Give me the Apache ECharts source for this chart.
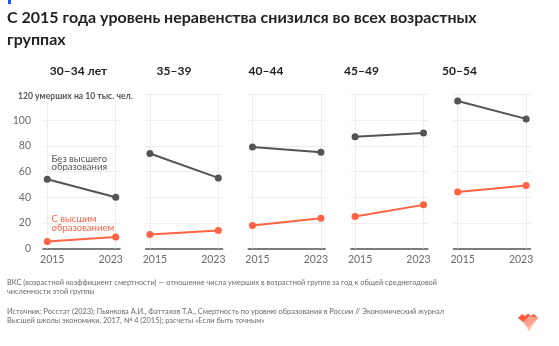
<!DOCTYPE html>
<html><head><meta charset="utf-8">
<script src="https://cdn.jsdelivr.net/npm/echarts@6/dist/echarts.min.js"></script>
<style>html,body{margin:0;padding:0;background:#fff}#c{width:559px;height:346px}</style>
</head><body><div id="c"></div>
<script>
const panels = ['30–34 лет', '35–39', '40–44', '45–49', '50–54'];
const years = [2015, 2023];
const noHigher = [[54, 40], [74, 55], [79, 75], [87, 90], [115, 101]];
const higher = [[5.5, 9], [11, 14], [18, 23.5], [25, 34], [44, 49]];
const yTicks = [0, 20, 40, 60, 80, 100, 120];
const yUnit = 'умерших на 10 тыс. чел.';

const FONT = 'Lato, "Noto Sans", sans-serif';
const GRAY = '#545457';
const RED = '#ff6343';
const LBL = '#6a6a70';
const chart = echarts.init(document.getElementById('c'), null, {renderer: 'canvas'});

const grids = [], xAxes = [], yAxes = [], series = [];
const titleCenters = [78.5, 174, 266, 361.5, 459.5];
panels.forEach((p, i) => {
  grids.push({left: 43 + i * 102.6, width: 77, top: 94.5, height: 154});
  xAxes.push({
    gridIndex: i, type: 'value', min: 2014.5, max: 2023.5,
    axisLine: {show: true, lineStyle: {color: '#55565a', width: 1.5}},
    axisTick: {show: false, customValues: years},
    splitLine: {show: false},
    axisLabel: {
      customValues: years, margin: 6, color: LBL, fontSize: 10.5, fontFamily: FONT,
      formatter: v => v === years[0] ? '{a|' + v + '}' : '{b|' + v + '}',
      rich: {
        a: {padding: [0, 0, 0, 10], color: LBL, fontSize: 10.5, fontFamily: FONT},
        b: {padding: [0, 10, 0, 0], color: LBL, fontSize: 10.5, fontFamily: FONT}
      }
    }
  });
  yAxes.push({
    gridIndex: i, type: 'value', min: 0, max: 120, interval: 20,
    axisLine: {show: false}, axisTick: {show: false},
    splitLine: {show: true, lineStyle: {color: '#ededed', width: 1}},
    axisLabel: {
      show: i === 0, margin: 12, color: LBL, fontSize: 10.5, fontFamily: FONT,
      formatter: v => v === yTicks[yTicks.length - 1] ? '' : String(v)
    }
  });
  series.push({
    type: 'line', xAxisIndex: i, yAxisIndex: i,
    data: years.map((y, k) => [y, noHigher[i][k]]),
    symbol: 'circle', symbolSize: 7, color: GRAY,
    lineStyle: {color: GRAY, width: 2}, itemStyle: {color: GRAY},
    z: 5, silent: true,
    markLine: {
      silent: true, symbol: 'none', label: {show: false},
      lineStyle: {color: '#ededed', type: 'solid', width: 1},
      data: years.map(y => ({xAxis: y})), z: 1
    }
  });
  series.push({
    type: 'line', xAxisIndex: i, yAxisIndex: i,
    data: years.map((y, k) => [y, higher[i][k]]),
    symbol: 'circle', symbolSize: 7, color: RED,
    lineStyle: {color: RED, width: 2}, itemStyle: {color: RED},
    z: 5, silent: true
  });
});

const graphics = [
  {type: 'rect', shape: {x: 8, y: 0, width: 3, height: 4}, style: {fill: '#1457f5'}},
  {type: 'text', left: 7, top: 7, style: {text: 'С 2015 года уровень неравенства снизился во всех возрастных\nгруппах', font: 'bold 16px ' + FONT, fill: '#222226', lineHeight: 22}},
  {type: 'text', x: 15, y: 96.5, z: 100, style: {text: yTicks[yTicks.length - 1] + ' ' + yUnit, font: 'bold 8.6px ' + FONT, fill: '#55565a', verticalAlign: 'middle', backgroundColor: '#fff', padding: [2, 3, 2, 3]}},
  {type: 'text', x: 51.5, y: 163, style: {text: 'Без высшего\nобразования', font: '9.5px ' + FONT, fill: '#55565a', lineHeight: 8.6, verticalAlign: 'middle'}},
  {type: 'text', x: 51.5, y: 223.5, style: {text: 'С высшим\nобразованием', font: '9.5px ' + FONT, fill: RED, lineHeight: 8.6, verticalAlign: 'middle'}},
  {type: 'text', x: 7, y: 287, style: {text: 'ВКС (возрастной коэффициент смертности) — отношение числа умерших в возрастной группе за год к общей среднегодовой\nчисленности этой группы', font: '7.4px ' + FONT, fill: LBL, lineHeight: 9, verticalAlign: 'middle'}},
  {type: 'text', x: 7, y: 316, style: {text: 'Источник: Росстат (2023); Пьянкова А.И., Фаттахов Т.А., Смертность по уровню образования в России // Экономический журнал\nВысшей школы экономики, 2017, № 4 (2015); расчеты «Если быть точным»', font: '7.4px ' + FONT, fill: LBL, lineHeight: 9, verticalAlign: 'middle'}},
  {type: 'polygon', shape: {points: [[518,318],[522,314],[525,316],[528,313.5],[531,316],[534,314],[538,318],[529,327]]}, style: {fill: '#ff5a3c'}},
  {type: 'polygon', shape: {points: [[523,322],[529,316],[538,318],[529,331]]}, style: {fill: '#ffb3a3', opacity: 0.8}}
];
panels.forEach((p, i) => {
  graphics.push({type: 'text', x: titleCenters[i], y: 71, style: {text: p, font: 'bold 12px ' + FONT, fill: '#222226', align: 'center', verticalAlign: 'middle'}});
});

chart.setOption({
  animation: false,
  grid: grids, xAxis: xAxes, yAxis: yAxes, series: series,
  graphic: graphics
});
</script></body></html>
